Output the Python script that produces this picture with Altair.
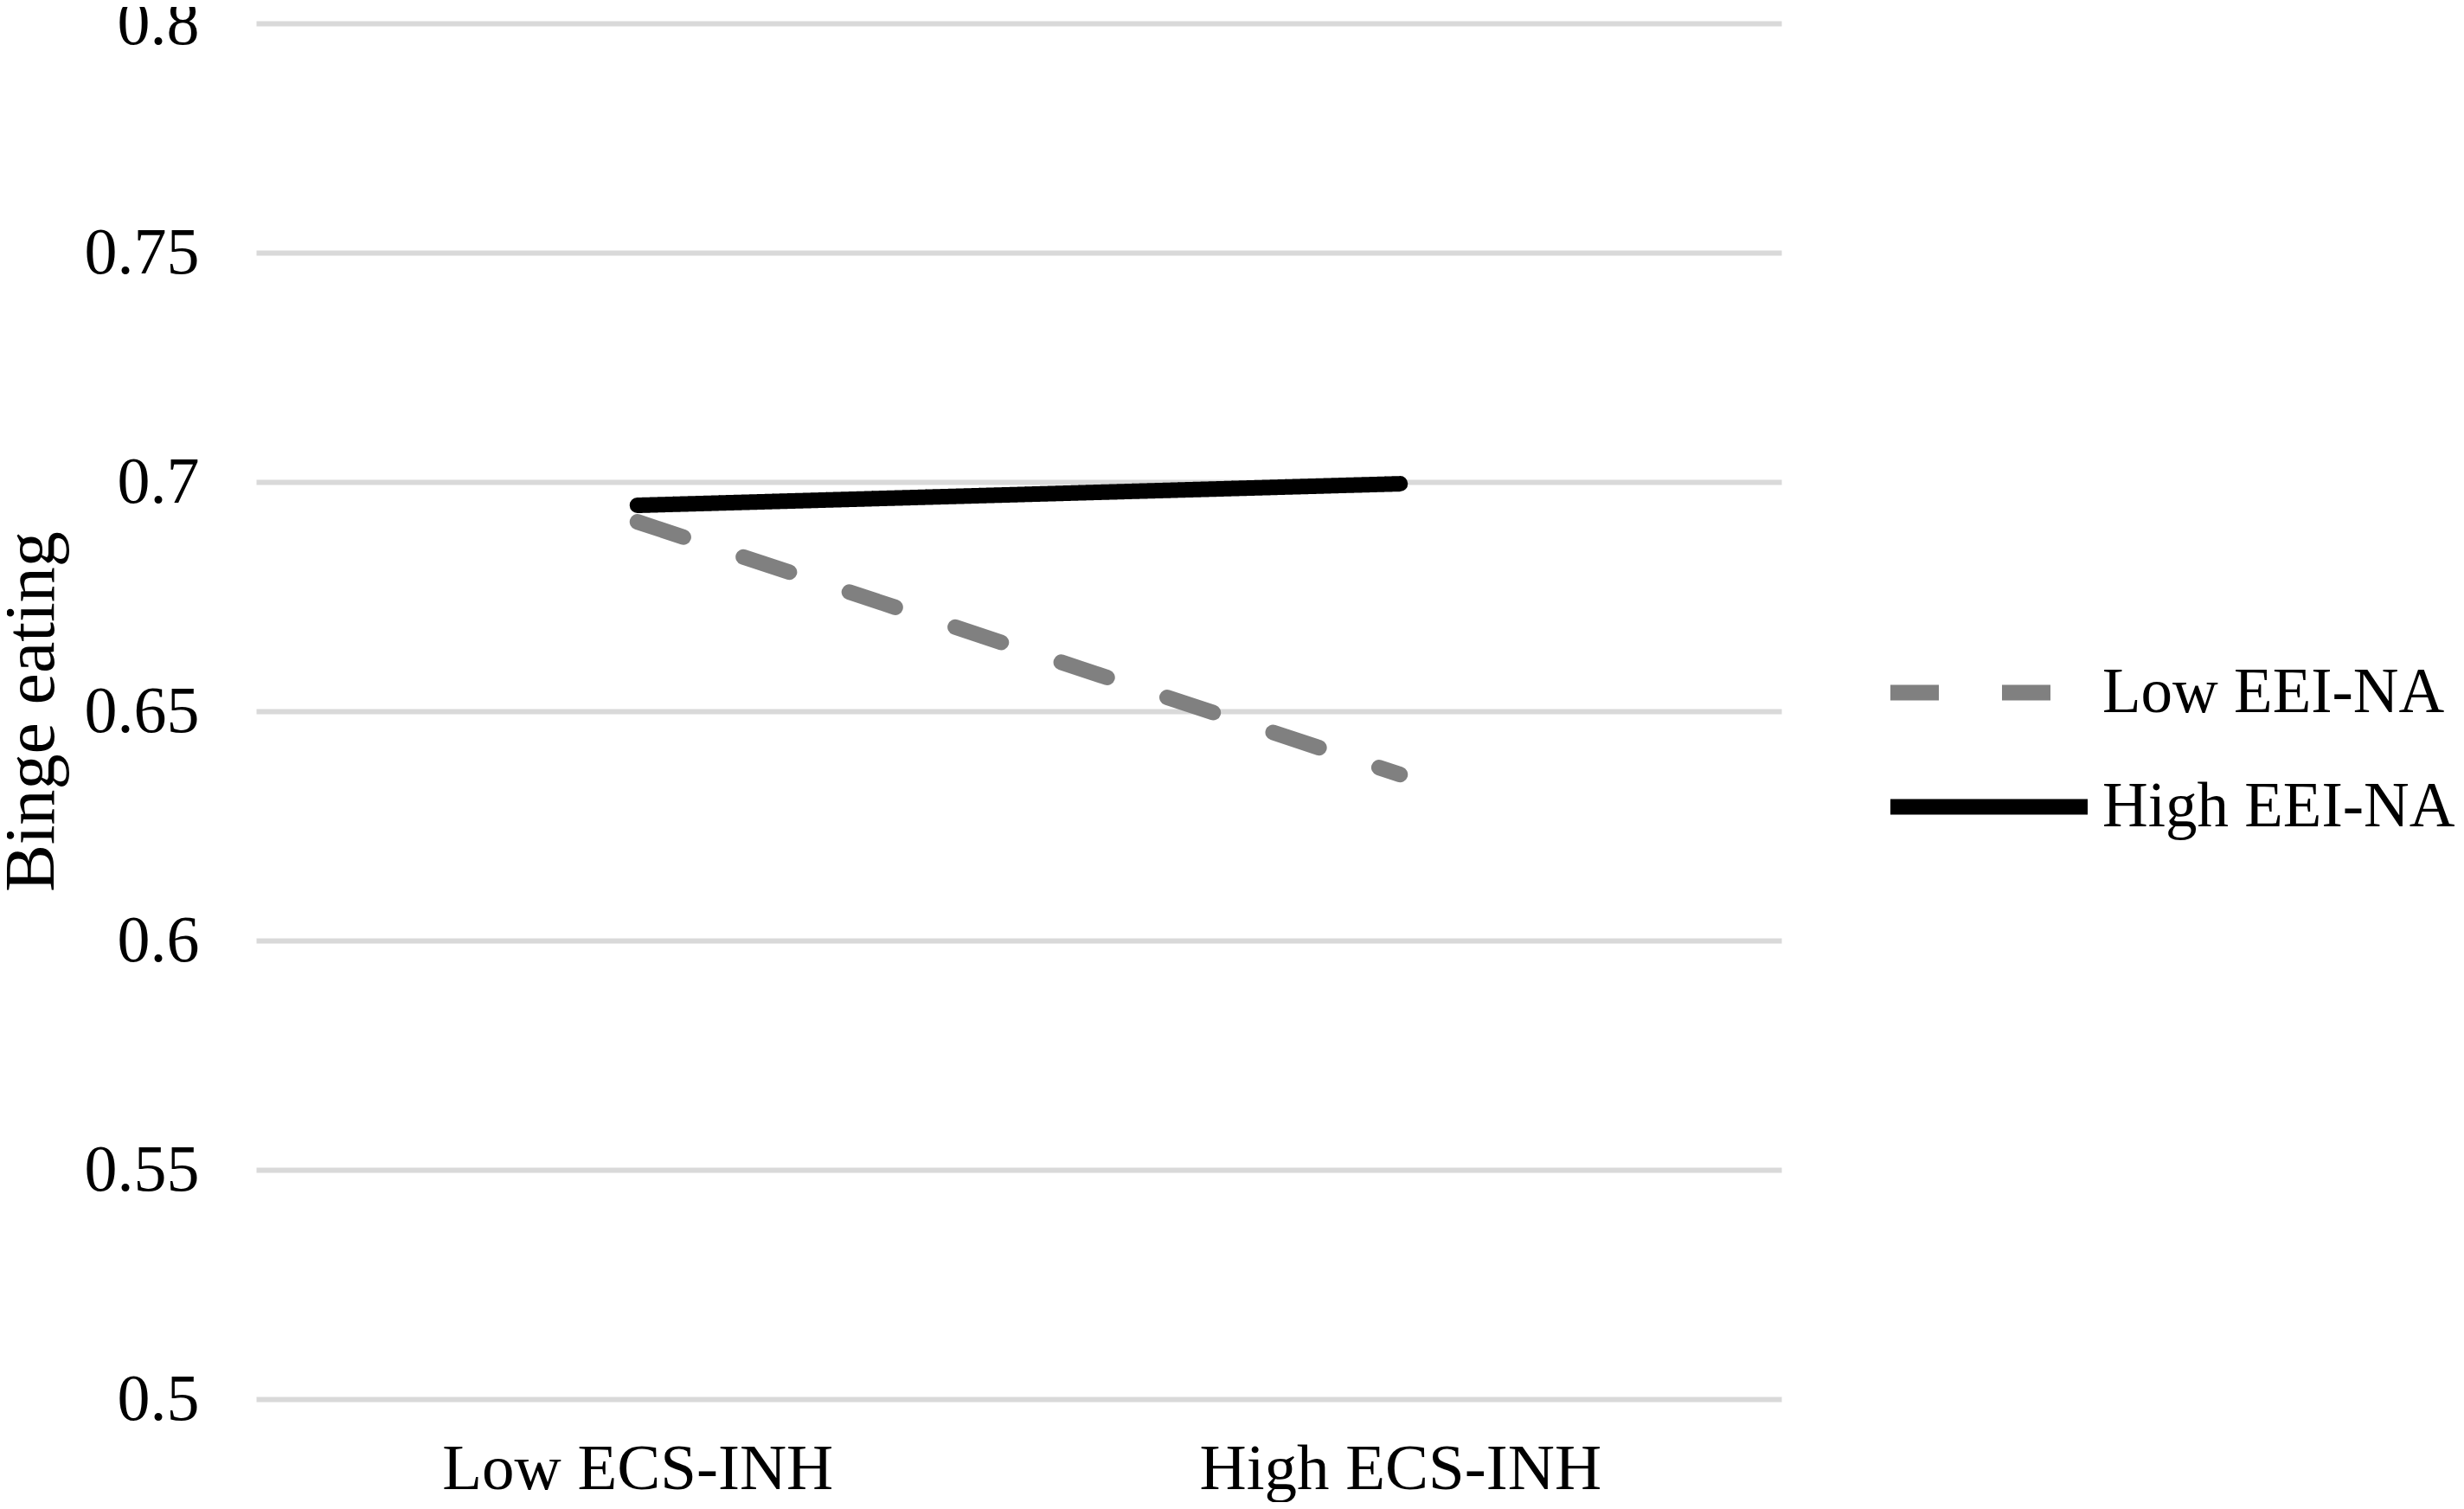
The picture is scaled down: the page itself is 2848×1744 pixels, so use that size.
import altair as alt
import pandas as pd

categories = ["Low ECS-INH", "High ECS-INH"]
series = ["Low EEI-NA", "High EEI-NA"]
low_eei = [0.6913, 0.6362]
high_eei = [0.6949, 0.6996]
y_ticks = [0.5, 0.55, 0.6, 0.65, 0.7, 0.75, 0.8]
series_colors = ["#808080", "#000000"]
series_dashes = [[56, 73], [1, 0]]

rows = []
for s, vals in zip(series, [low_eei, high_eei]):
    for c, v in zip(categories, vals):
        rows.append({"ecs": c, "eei": s, "binge": v})
df = pd.DataFrame(rows)

FONT = "Liberation Serif"

legend = alt.Legend(
    title=None, orient="none", legendX=1880, legendY=736,
    symbolType="stroke", symbolSize=51984, symbolStrokeWidth=18,
    labelFont=FONT, labelFontSize=73, labelColor="#000000", labelLimit=0,
    labelOffset=8, rowPadding=57, clipHeight=75, padding=0,
)

chart = alt.Chart(df).mark_line(strokeWidth=18, strokeCap="round").encode(
    x=alt.X("ecs:N", sort=categories,
            scale=alt.Scale(type="point", padding=0.5),
            axis=alt.Axis(title=None, labelAngle=0, grid=False, domain=False, ticks=False,
                          labelFont=FONT, labelFontSize=75, labelColor="#000000",
                          labelLimit=0, labelPadding=44)),
    y=alt.Y("binge:Q",
            scale=alt.Scale(domain=[0.5, 0.8], nice=False, zero=False),
            axis=alt.Axis(title="Binge eating", values=y_ticks, format=".2~f",
                          grid=True, gridColor="#d9d9d9", gridWidth=6,
                          domain=False, ticks=False,
                          labelFont=FONT, labelFontSize=76, labelColor="#000000",
                          labelLimit=0, labelPadding=66,
                          titleFont=FONT, titleFontSize=82, titleFontWeight="normal",
                          titleColor="#000000", titleX=-235, titleY=795, titleAngle=270,
                          titleBaseline="alphabetic", titleAlign="center", titleLimit=0)),
    color=alt.Color("eei:N", sort=series,
                    scale=alt.Scale(domain=series, range=series_colors), legend=legend),
    strokeDash=alt.StrokeDash("eei:N", sort=series,
                              scale=alt.Scale(domain=series, range=series_dashes), legend=legend),
).properties(
    width=1763, height=1590,
    autosize=alt.AutoSizeParams(type="none"),
    padding={"left": 288, "top": 19, "right": 780, "bottom": 119},
    background="white",
).configure_view(stroke=None)

chart.save("out.html", embed_options={"renderer": "svg", "actions": False})
